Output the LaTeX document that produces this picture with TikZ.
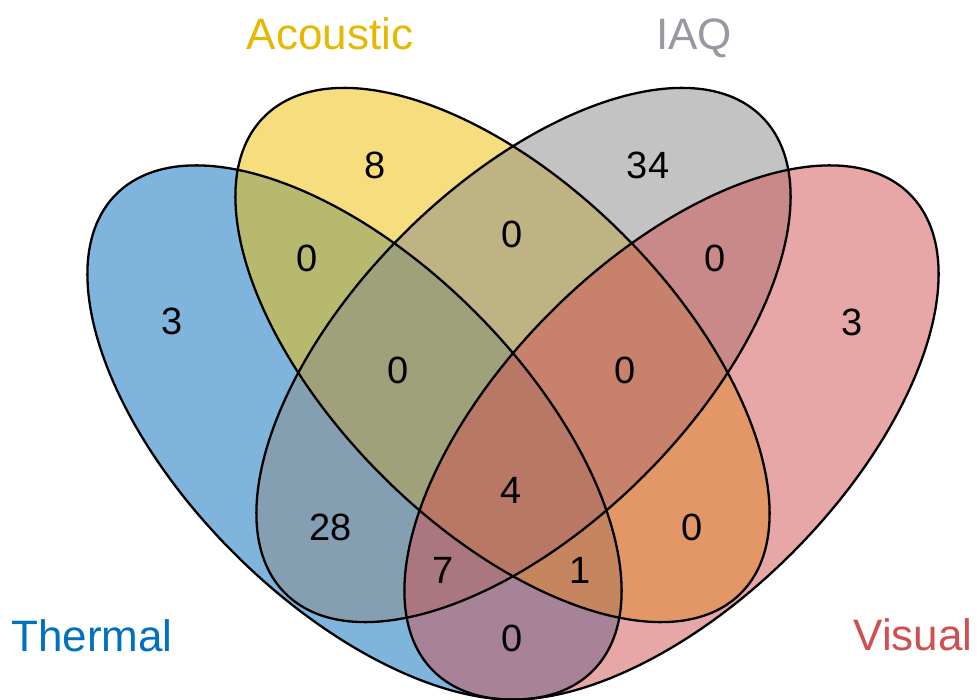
\documentclass[tikz,border=0pt]{standalone}
\usepackage{fontspec}
\setmainfont{Liberation Sans}
\definecolor{colT}{RGB}{0,109,189}
\definecolor{colA}{RGB}{239,191,1}
\definecolor{colI}{RGB}{137,137,137}
\definecolor{colV}{RGB}{209,81,81}
\definecolor{txtT}{RGB}{0,112,192}
\definecolor{txtA}{RGB}{230,184,0}
\definecolor{txtI}{RGB}{150,154,160}
\definecolor{txtV}{RGB}{208,80,80}
\begin{document}
\begin{tikzpicture}[x=1pt,y=-1pt,
  setfill/.style={fill opacity=0.5},
  outline/.style={draw=black, line width=2.3pt},
  num/.style={font=\fontsize{38}{42}\selectfont, text=black, inner sep=0pt},
  setlabel/.style={font=\fontsize{44}{48}\selectfont, inner sep=0pt, anchor=base},
  ell/.style={x radius=337pt, y radius=170.5pt}]
\useasboundingbox (0,0) rectangle (977,700);
\fill[white] (0,0) rectangle (977,700);
\coordinate (cT) at (354.5,432.5);
\coordinate (cA) at (502.5,355);
\coordinate (cI) at (523.5,355);
\coordinate (cV) at (671.5,432.5);
% fills
\fill[colT, setfill, rotate around={-45:(cT)}] (cT) ellipse [ell];
\fill[colA, setfill, rotate around={-45:(cA)}] (cA) ellipse [ell];
\fill[colI, setfill, rotate around={45:(cI)}] (cI) ellipse [ell];
\fill[colV, setfill, rotate around={45:(cV)}] (cV) ellipse [ell];
% outlines
\draw[outline, rotate around={-45:(cT)}] (cT) ellipse [ell];
\draw[outline, rotate around={-45:(cA)}] (cA) ellipse [ell];
\draw[outline, rotate around={45:(cI)}] (cI) ellipse [ell];
\draw[outline, rotate around={45:(cV)}] (cV) ellipse [ell];
% counts
\node[num] (nT) at (172,321) {3};
\node[num] (nA) at (375,165) {8};
\node[num] (nI) at (648,165) {34};
\node[num] (nV) at (852,322) {3};
\node[num] (nTA) at (307,258) {0};
\node[num] (nAI) at (512,234) {0};
\node[num] (nIV) at (715,258) {0};
\node[num] (nTAI) at (398,370) {0};
\node[num] (nAIV) at (625,370) {0};
\node[num] (nTAIV) at (511,490) {4};
\node[num] (nTI) at (331,527) {28};
\node[num] (nAV) at (692,527) {0};
\node[num] (nTIV) at (443,570) {7};
\node[num] (nTAV) at (580,570) {1};
\node[num] (nTV) at (512,638) {0};
% set names
\node[setlabel, text=txtA] (lA) at (330,50) {Acoustic};
\node[setlabel, text=txtI] (lI) at (694,50) {IAQ};
\node[setlabel, text=txtT] (lT) at (92,651) {Thermal};
\node[setlabel, text=txtV] (lV) at (913,650) {Visual};
\end{tikzpicture}
\end{document}
